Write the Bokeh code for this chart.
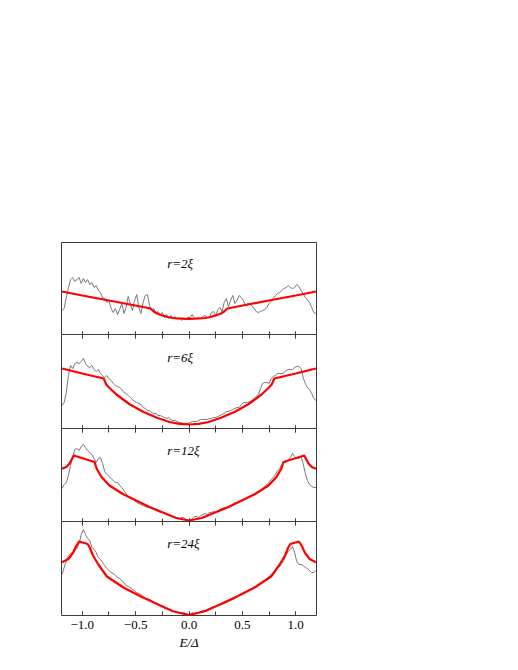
from bokeh.plotting import figure
from bokeh.layouts import column
from bokeh.models import Range1d, FixedTicker, LinearAxis, Label
from bokeh.embed import file_html
from bokeh.resources import INLINE

# ---------------- data ----------------
GRAY_X = [-1.19, -1.17, -1.15, -1.13, -1.11, -1.09, -1.07, -1.05, -1.03, -1.01,
          -0.99, -0.97, -0.95, -0.93, -0.91, -0.89, -0.87, -0.85, -0.83, -0.81,
          -0.79, -0.77, -0.75, -0.73, -0.71, -0.69, -0.67, -0.65, -0.63, -0.61,
          -0.59, -0.57, -0.55, -0.53, -0.51, -0.49, -0.47, -0.45, -0.43, -0.41,
          -0.39, -0.37, -0.35, -0.33, -0.31, -0.29, -0.27, -0.25, -0.23, -0.21,
          -0.19, -0.17, -0.15, -0.13, -0.11, -0.09, -0.07, -0.05, -0.03, -0.01,
          0.01, 0.03, 0.05, 0.07, 0.09, 0.11, 0.13, 0.15, 0.17, 0.19,
          0.21, 0.23, 0.25, 0.27, 0.29, 0.31, 0.33, 0.35, 0.37, 0.39,
          0.41, 0.43, 0.45, 0.47, 0.49, 0.51, 0.53, 0.55, 0.57, 0.59,
          0.61, 0.63, 0.65, 0.67, 0.69, 0.71, 0.73, 0.75, 0.77, 0.79,
          0.81, 0.83, 0.85, 0.87, 0.89, 0.91, 0.93, 0.95, 0.97, 0.99,
          1.01, 1.03, 1.05, 1.07, 1.09, 1.11, 1.13, 1.15, 1.17, 1.19]

GRAY_R2 = [25, 27, 38, 48, 56, 58, 54, 56, 58, 52, 57, 53, 56, 51, 53, 48, 50, 45, 43, 38,
           37, 33, 35, 27, 23, 27, 21, 26, 32, 22, 28, 39, 32, 25, 35, 41, 28, 22, 33, 40,
           41, 30, 25, 27, 22, 24, 20, 23, 18, 21, 17, 20, 17, 19, 16, 18, 15, 17, 16, 18,
           18, 21, 17, 17, 18, 17, 19, 20, 18, 18, 23, 24, 20, 26, 28, 24, 33, 37, 29, 35,
           40, 32, 35, 40, 38, 35, 30, 32, 31, 30, 27, 24, 23, 24, 25, 26, 28, 32, 34, 37,
           40, 42, 43, 45, 47, 48, 50, 48, 47, 48, 51, 49, 45, 42, 38, 36, 33, 28, 23, 22]

GRAY_R6 = [24, 27, 37, 54, 64, 61, 66, 67, 66, 68, 71, 66, 63, 62, 64, 60, 58, 60, 56, 54,
           52, 54, 51, 49, 46, 44, 43, 42, 40, 37, 36, 34, 32, 30, 28, 27, 26, 25, 22, 21,
           19, 19, 17, 16, 16, 14, 14, 13, 12, 11, 12, 10, 9, 9, 8, 7, 7, 6, 6, 6,
           7, 8, 8, 8, 9, 10, 10, 10, 10, 11, 11, 12, 12, 13, 14, 15, 16, 18, 18, 19,
           20, 21, 22, 22, 25, 27, 27, 27, 28, 29, 31, 33, 35, 41, 46, 47, 47, 46, 51, 53,
           54, 56, 56, 56, 57, 59, 60, 60, 60, 62, 63, 63, 61, 52, 46, 42, 40, 36, 31, 29]

GRAY_R12 = [34, 38, 40, 47, 57, 65, 73, 74, 72, 76, 78, 75, 72, 70, 68, 64, 60, 64, 65, 59,
            51, 48, 46, 44, 42, 40, 40, 37, 35, 32, 29, 26, 25, 24, 22, 20, 19, 18, 17, 16,
            15, 15, 14, 13, 12, 11, 10, 10, 9, 8, 7, 7, 6, 5, 5, 4, 5, 5, 3, 2,
            2, 4, 6, 6, 5, 7, 8, 9, 8, 10, 10, 11, 10, 12, 13, 14, 15, 15, 16, 17,
            18, 20, 20, 21, 22, 23, 23, 25, 26, 27, 28, 30, 31, 32, 34, 36, 38, 40, 43, 45,
            48, 52, 54, 58, 60, 60, 63, 65, 69, 66, 64, 64, 66, 59, 49, 42, 38, 36, 35, 35]

GRAY_R24 = [41, 48, 55, 60, 62, 63, 65, 67, 72, 81, 86, 81, 77, 75, 68, 66, 63, 58, 56, 53,
            50, 47, 45, 43, 42, 40, 38, 37, 35, 33, 30, 29, 28, 26, 25, 23, 22, 21, 19, 17,
            17, 16, 15, 13, 12, 11, 10, 9, 7, 7, 6, 5, 4, 4, 3, 3, 2, 3, 2, 1,
            1, 3, 2, 3, 3, 4, 5, 5, 6, 7, 8, 9, 9, 10, 11, 11, 12, 13, 14, 15,
            16, 17, 19, 20, 21, 22, 23, 25, 26, 27, 28, 29, 31, 32, 33, 35, 37, 39, 41, 43,
            45, 47, 49, 52, 55, 61, 64, 66, 69, 63, 54, 51, 51, 50, 48, 47, 45, 43, 43, 45]

RED_X_R2 = [-1.19, -1.0, -0.8, -0.6, -0.36, -0.33, -0.30, -0.25, -0.20, -0.15, -0.10, -0.05, 0.0,
            0.05, 0.10, 0.15, 0.20, 0.25, 0.30, 0.33, 0.36, 0.6, 0.8, 1.0, 1.19]
RED_R2 = [44, 40, 36, 32, 27, 24, 22, 20, 18.5, 17.5, 17, 16.8, 16.7,
          16.8, 17, 17.5, 18.5, 20, 22, 24, 27, 32, 36, 40, 44]

RED_X_R6 = [-1.19, -1.0, -0.80, -0.775, -0.75, -0.68, -0.56, -0.435, -0.30, -0.184, -0.09, 0.0,
            0.09, 0.184, 0.30, 0.435, 0.56, 0.68, 0.75, 0.775, 0.80, 1.0, 1.19]
RED_R6 = [61, 56, 51, 45, 42, 35, 25.5, 18, 11.7, 7.5, 5.7, 5,
          5.7, 7.5, 11.7, 18, 25.5, 35, 42, 45, 51, 56, 61]

RED_X_R12 = [-1.19, -1.15, -1.12, -1.08, -0.885, -0.865, -0.82, -0.745, -0.62, -0.495, -0.37, -0.25, -0.12, 0.0,
             0.12, 0.25, 0.37, 0.495, 0.62, 0.745, 0.82, 0.865, 0.885, 1.08, 1.12, 1.15, 1.19]
RED_R12 = [53.7, 55.5, 59, 67, 60.5, 53.7, 45.5, 37, 28.5, 22, 15.5, 10.3, 4.5, 2,
           4.5, 10.3, 15.5, 22, 28.5, 37, 45.5, 53.7, 60.5, 67, 59, 55.5, 53.7]

RED_X_R24 = [-1.19, -1.13, -1.085, -1.055, -1.03, -0.95, -0.93, -0.90, -0.85, -0.77, -0.615, -0.46, -0.305, -0.15, 0.0,
             0.15, 0.305, 0.46, 0.615, 0.77, 0.85, 0.90, 0.93, 0.95, 1.03, 1.055, 1.085, 1.13, 1.19]
RED_R24 = [53.3, 56.5, 63, 70, 74, 71.5, 68, 60, 51, 39, 28, 19.5, 11.7, 4.3, 0.5,
           4.3, 11.7, 19.5, 28, 39, 51, 60, 68, 71.5, 74, 70, 63, 56.5, 53.3]

PANEL_LABELS = ["r=2\u03be", "r=6\u03be", "r=12\u03be", "r=24\u03be"]
GRAY_SERIES = [GRAY_R2, GRAY_R6, GRAY_R12, GRAY_R24]
RED_XS = [RED_X_R2, RED_X_R6, RED_X_R12, RED_X_R24]
RED_SERIES = [RED_R2, RED_R6, RED_R12, RED_R24]

MAJOR_TICKS = [-1.0, -0.5, 0.0, 0.5, 1.0]
MINOR_TICKS = [-1.0, -0.75, -0.5, -0.25, 0.0, 0.25, 0.5, 0.75, 1.0]
TICK_LABELS = {-1.0: "\u22121.0", -0.5: "\u22120.5", 0.0: "0.0", 0.5: "0.5", 1.0: "1.0"}

SERIF = "'Liberation Serif', 'Times New Roman', serif"
FRAME_COLOR = "#3a3a3a"


def tick_axis(**extra):
    """Inward ticks every 0.25; the frame outline supplies the line."""
    opts = dict(ticker=FixedTicker(ticks=MAJOR_TICKS, minor_ticks=MINOR_TICKS),
                major_tick_in=4, major_tick_out=0, minor_tick_in=4, minor_tick_out=0,
                major_tick_line_color=FRAME_COLOR, minor_tick_line_color=FRAME_COLOR,
                axis_line_color=None,
                major_label_text_font_size="0px", major_label_text_color=None,
                major_label_standoff=0)
    opts.update(extra)
    return LinearAxis(**opts)


# ---------------- layout ----------------
frame_h = [93, 95, 94, 94]
top_border = [242, 0, 0, 0]
bottom_border = [0, 0, 0, 45]

figs = []
for i in range(4):
    last = (i == 3)
    p = figure(width=321, height=frame_h[i] + top_border[i] + bottom_border[i],
               output_backend="svg", toolbar_location=None,
               x_range=Range1d(-1.195, 1.195), y_range=Range1d(0, frame_h[i]),
               x_axis_location=None, y_axis_location=None,
               min_border_left=61, min_border_right=5,
               min_border_top=top_border[i], min_border_bottom=bottom_border[i],
               margin=(0 if i == 0 else -1, 0, 0, 0))
    p.xgrid.visible = False
    p.ygrid.visible = False
    p.outline_line_color = FRAME_COLOR
    p.outline_line_width = 1
    p.background_fill_color = "white"
    p.border_fill_color = "white"

    if last:
        ax = tick_axis(major_label_overrides=TICK_LABELS,
                       major_label_text_font=SERIF, major_label_text_font_size="13px",
                       major_label_text_color="black", major_label_standoff=5,
                       axis_label="E/\u0394", axis_label_text_font=SERIF,
                       axis_label_text_font_style="italic", axis_label_text_font_size="13px",
                       axis_label_text_color="black", axis_label_standoff=3)
    else:
        ax = tick_axis()
    p.add_layout(ax, "below")
    if i > 0:
        p.add_layout(tick_axis(), "above")

    p.line(GRAY_X, GRAY_SERIES[i], line_color="#777777", line_width=1)
    p.line(RED_XS[i], RED_SERIES[i], line_color="#ff0000", line_width=2.2)

    p.add_layout(Label(x=-0.205, y=72, text=PANEL_LABELS[i], text_font=SERIF,
                       text_font_style="italic", text_font_size="13px",
                       text_baseline="middle", text_align="left", text_color="black"))
    figs.append(p)

layout = column(*figs, spacing=0)
open("out.html", "w").write(file_html(layout, INLINE))
